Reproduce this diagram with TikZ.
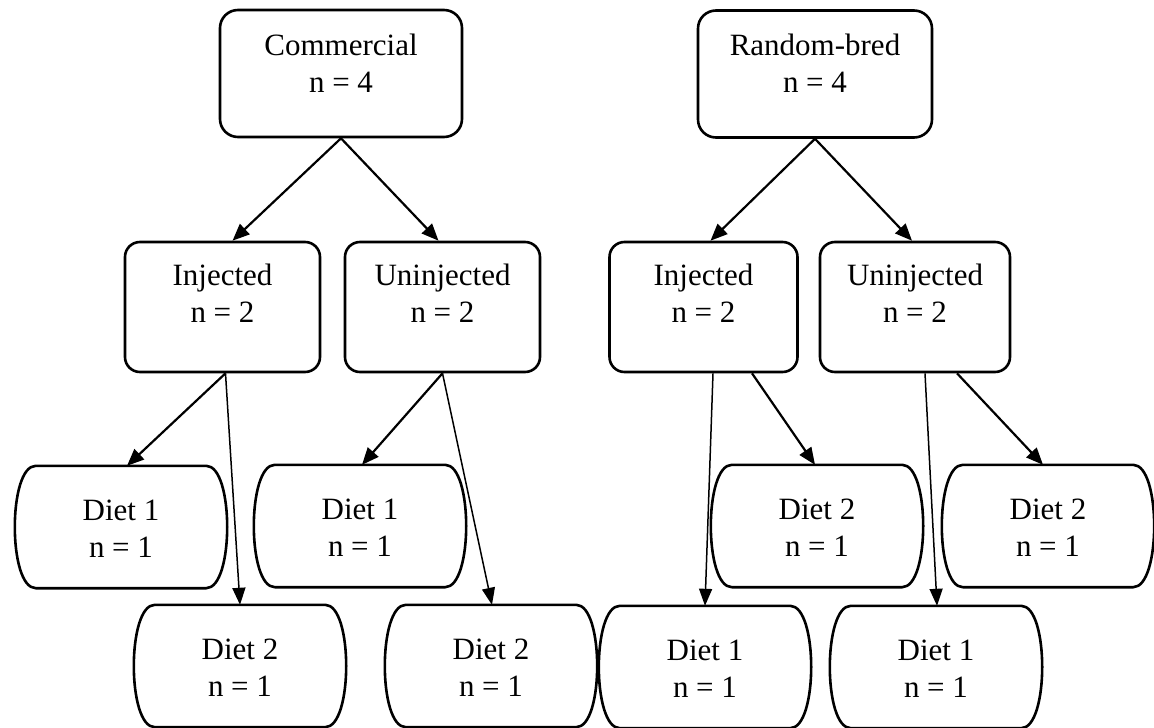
\documentclass[tikz,border=0pt]{standalone}
\usepackage{fontspec}
\setmainfont{Liberation Serif}
\usetikzlibrary{arrows.meta,calc}
\newcommand{\boxtext}[2]{\raisebox{#1}[\height][\depth]{\begin{tabular}{@{}c@{}}#2\end{tabular}}}
\newcommand{\dietnode}[3]{%
  \node[dietbox] (#1) at #2 {\boxtext{-4.5pt}{#3}};
  \draw[dietline] (#1.north west) -- (#1.north east)
    .. controls +(28,0) and +(28,0) .. (#1.south east)
    -- (#1.south west)
    .. controls +(-28,0) and +(-28,0) .. (#1.north west) -- cycle;}
\begin{document}
\begin{tikzpicture}[x=1pt,y=-1pt,
  every node/.style={font=\fontsize{31}{37}\selectfont},
  topbox/.style={draw, line width=2.6pt, rounded corners=18pt, rectangle, inner sep=0pt, minimum height=127pt},
  midbox/.style={draw, line width=2.6pt, rounded corners=15pt, rectangle, inner sep=0pt, minimum height=130pt},
  dietbox/.style={rectangle, draw=none, inner sep=0pt, minimum width=170pt, minimum height=122pt},
  dietline/.style={line width=2.6pt, line join=round},
  arr/.style={line width=2.2pt, -{Triangle[length=17pt,width=14pt]}},
  thinarr/.style={line width=1.5pt, -{Triangle[length=17pt,width=13pt]}}
]
\useasboundingbox (0,0) rectangle (1154,728);
% top
\node[topbox, minimum width=242pt] (com) at (341,73.5) {\boxtext{7pt}{Commercial\\n = 4}};
\node[topbox, minimum width=234pt] (rb) at (815,74) {\boxtext{7pt}{Random-bred\\n = 4}};
% middle
\node[midbox, minimum width=195pt] (injL) at (222.5,307) {\boxtext{10.5pt}{Injected\\n = 2}};
\node[midbox, minimum width=195pt] (uniL) at (442.5,307) {\boxtext{10.5pt}{Uninjected\\n = 2}};
\node[midbox, minimum width=188pt] (injR) at (703.5,307) {\boxtext{10.5pt}{Injected\\n = 2}};
\node[midbox, minimum width=190pt] (uniR) at (915,307) {\boxtext{10.5pt}{Uninjected\\n = 2}};
% diets
\dietnode{dAa}{(121,527)}{Diet 1\\n = 1}
\dietnode{dBa}{(360,526)}{Diet 1\\n = 1}
\dietnode{dAb}{(240,666)}{Diet 2\\n = 1}
\dietnode{dBb}{(491,666)}{Diet 2\\n = 1}
\dietnode{dCa}{(705,667)}{Diet 1\\n = 1}
\dietnode{dCb}{(817,526)}{Diet 2\\n = 1}
\dietnode{dDa}{(936,667)}{Diet 1\\n = 1}
\dietnode{dDb}{(1048,526)}{Diet 2\\n = 1}
% connectors
\draw[arr] (com.south) -- ([xshift=10pt]injL.north);
\draw[arr] (com.south) -- ([xshift=-4pt]uniL.north);
\draw[arr] (rb.south) -- ([xshift=7pt]injR.north);
\draw[arr] (rb.south) -- ([xshift=-3pt]uniR.north);
\draw[arr] ([xshift=3pt]injL.south) -- ([xshift=6pt]dAa.north);
\draw[thinarr] ([xshift=3pt]injL.south) -- (dAb.north);
\draw[arr] (uniL.south) -- ([xshift=2pt]dBa.north);
\draw[thinarr] (uniL.south) -- ([xshift=1pt]dBb.north);
\draw[thinarr] ([xshift=9.5pt]injR.south) -- (dCa.north);
\draw[arr] ([xshift=48.5pt]injR.south) -- ([xshift=-2pt]dCb.north);
\draw[thinarr] ([xshift=10pt]uniR.south) -- ([xshift=1pt]dDa.north);
\draw[arr] ([xshift=42pt]uniR.south) -- ([xshift=-5pt]dDb.north);
\end{tikzpicture}
\end{document}
